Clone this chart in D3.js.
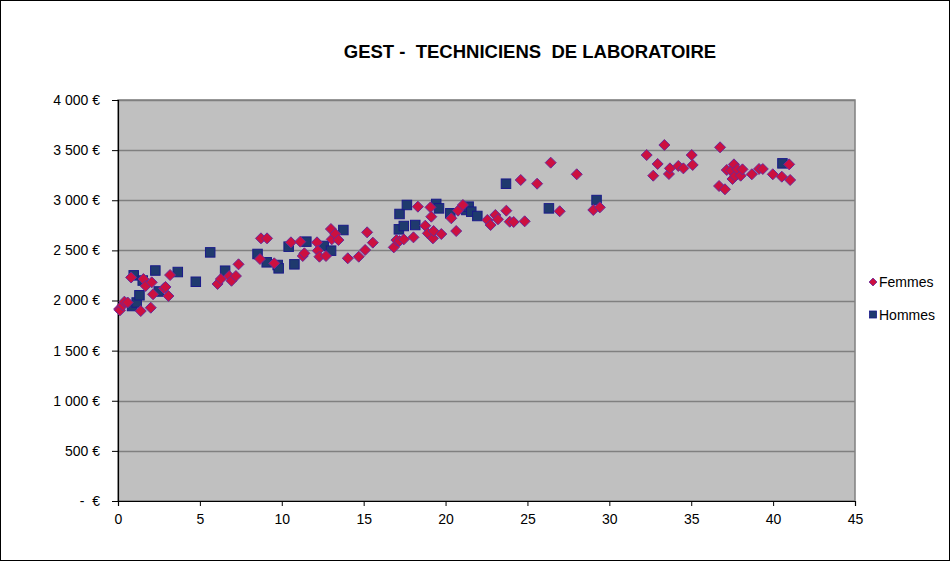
<!DOCTYPE html>
<html><head><meta charset="utf-8">
<script src="https://cdn.jsdelivr.net/npm/d3@7"></script>
<style>
html,body{margin:0;padding:0;background:#fff;}
svg{display:block;font-family:"Liberation Sans",Arial,sans-serif;}
</style></head>
<body>
<svg id="chart" width="952" height="563"></svg>
<script>
const title = "GEST -  TECHNICIENS  DE LABORATOIRE";
const seriesNames = ["Femmes", "Hommes"];
const xTicks = [0,5,10,15,20,25,30,35,40,45];
const yTicks = [0,500,1000,1500,2000,2500,3000,3500,4000];
const yTickLabels = ["-  €","500 €","1 000 €","1 500 €","2 000 €","2 500 €","3 000 €","3 500 €","4 000 €"];

const femmesX = [0.07,0.12,0.29,0.39,0.59,0.8,1.39,1.55,1.69,2.0,2.06,2.14,2.8,2.9,3.08,3.18,6.08,6.28,6.79,6.93,7.2,7.36,8.67,8.73,9.1,9.54,10.56,11.13,11.28,11.38,12.15,12.2,12.3,12.7,13.0,13.05,13.27,13.46,14.03,14.7,15.09,15.21,15.56,16.84,17.0,17.19,17.45,18.04,18.31,18.76,18.92,19.08,19.13,19.23,19.27,19.74,20.35,20.65,20.76,21.06,22.55,22.75,23.04,23.2,23.71,23.92,24.16,24.59,24.83,25.59,26.42,26.97,28.01,29.02,29.42,32.28,32.68,32.95,33.36,33.64,33.7,34.21,34.52,35.03,35.09,36.7,36.76,37.06,37.17,37.43,37.52,37.61,37.68,37.82,38.02,38.13,38.7,39.14,39.37,39.98,40.53,40.98,41.04];
const femmesY = [1915,1902,1952,1988,1980,2230,1895,2214,2145,1928,2181,2062,2121,2135,2045,2254,2165,2214,2244,2197,2244,2361,2414,2620,2620,2371,2580,2587,2444,2471,2580,2497,2437,2444,2713,2610,2663,2603,2421,2437,2504,2680,2577,2530,2603,2593,2610,2630,2936,2746,2670,2929,2836,2620,2693,2663,2820,2693,2896,2953,2803,2753,2853,2810,2896,2786,2783,3202,2790,3165,3375,2890,3259,2903,2929,3451,3245,3362,3551,3262,3318,3342,3318,3451,3352,3142,3528,3109,3302,3295,3212,3358,3242,3308,3245,3308,3259,3312,3312,3259,3235,3358,3202];

const hommesX = [0.86,0.96,1.14,1.31,1.51,2.28,2.49,3.65,4.75,5.63,6.54,8.52,9.08,9.75,9.81,10.42,10.77,11.5,12.56,13.01,13.76,17.15,17.19,17.45,17.64,18.15,19.43,19.6,20.29,21.27,21.41,21.57,21.94,23.69,26.31,29.22,40.57];
const hommesY = [1945,2251,1980,2052,2199,2299,2090,2284,2187,2480,2297,2464,2381,2354,2321,2537,2361,2587,2544,2497,2703,2710,2863,2743,2953,2753,2963,2919,2870,2903,2936,2886,2843,3165,2919,3002,3368];

const svg = d3.select("#chart");
const W = 952, H = 563;
const m = {left:118, right:855, top:100, bottom:501};
const FONT = "'Liberation Sans',Arial,sans-serif";

// outer border
svg.append("rect").attr("x",0.5).attr("y",0.5).attr("width",W-3).attr("height",H-3)
  .attr("fill","#fff").attr("stroke","#000").attr("stroke-width",1);

const x = d3.scaleLinear().domain([0,45]).range([m.left,m.right]);
const y = d3.scaleLinear().domain([0,4000]).range([m.bottom,m.top]);

// plot background
svg.append("rect").attr("x",m.left).attr("y",m.top).attr("width",m.right-m.left).attr("height",m.bottom-m.top)
  .attr("fill","#c0c0c0").attr("stroke","#808080").attr("stroke-width",1.5);

// gridlines
svg.append("g").selectAll("line").data(yTicks.filter(d=>d>0)).join("line")
  .attr("x1",m.left).attr("x2",m.right)
  .attr("y1",d=>Math.round(y(d))+0.5).attr("y2",d=>Math.round(y(d))+0.5)
  .attr("stroke","#808080").attr("stroke-width",1.5);

// y axis
const yAxis = d3.axisLeft(y).tickValues(yTicks).tickSize(6).tickPadding(12)
  .tickFormat((d,i)=>yTickLabels[i]);
const gy = svg.append("g").attr("transform",`translate(${m.left},0)`).call(yAxis);
gy.select(".domain").attr("stroke","#000").attr("stroke-width",1.2);
gy.selectAll(".tick line").attr("stroke","#000");
gy.selectAll("text").attr("font-size",14).attr("fill","#000")
  .attr("font-family",FONT).style("white-space","pre");

// x axis
const xAxis = d3.axisBottom(x).tickValues(xTicks).tickSize(5).tickPadding(8);
const gx = svg.append("g").attr("transform",`translate(0,${m.bottom})`).call(xAxis);
gx.select(".domain").attr("stroke","#000").attr("stroke-width",1.2);
gx.selectAll(".tick line").attr("stroke","#000");
gx.selectAll("text").attr("font-size",14).attr("fill","#000").attr("font-family",FONT);

// data
const fem = femmesX.map((v,i)=>({x:v,y:femmesY[i]}));
const hom = hommesX.map((v,i)=>({x:v,y:hommesY[i]}));

const diamond = "M0,-5.5L5.5,0L0,5.5L-5.5,0Z";
const femColor = "#cc1040", femStroke = "#6a2a9a";
const homColor = "#1f3a6e", homStroke = "#1a1a8a";

svg.append("g").selectAll("rect").data(hom).join("rect")
  .attr("x",d=>x(d.x)-4.75).attr("y",d=>y(d.y)-4.75).attr("width",9.5).attr("height",9.5)
  .attr("fill",homColor).attr("stroke",homStroke).attr("stroke-width",1);

svg.append("g").selectAll("path").data(fem).join("path")
  .attr("transform",d=>`translate(${x(d.x)},${y(d.y)})`)
  .attr("d",diamond).attr("fill",femColor).attr("stroke",femStroke).attr("stroke-width",1);

// title
svg.append("text").attr("x",530).attr("y",58).attr("text-anchor","middle")
  .attr("font-size",18.5).attr("font-weight","bold").style("white-space","pre")
  .attr("font-family",FONT).text(title);

// legend
const lg = svg.append("g").attr("font-family",FONT);
lg.append("path").attr("transform","translate(873,282)").attr("d","M0,-4L4,0L0,4L-4,0Z")
  .attr("fill",femColor).attr("stroke",femStroke).attr("stroke-width",0.8);
lg.append("text").attr("x",879).attr("y",287).attr("font-size",14).text(seriesNames[0]);
lg.append("rect").attr("x",869.5).attr("y",311).attr("width",7).attr("height",7)
  .attr("fill",homColor).attr("stroke",homStroke).attr("stroke-width",0.8);
lg.append("text").attr("x",879).attr("y",320).attr("font-size",14).text(seriesNames[1]);
</script>
</body></html>
